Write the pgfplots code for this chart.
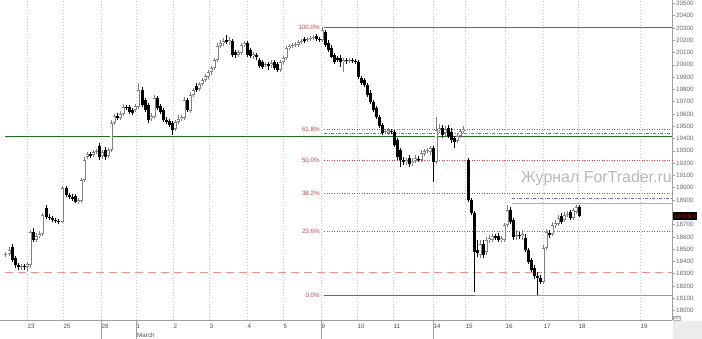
\documentclass[border=0pt]{standalone}
\usepackage{fontspec}
\setmainfont{Liberation Sans}
\usepackage{pgfplots}
\usepackage{pgfplotstable}
\pgfplotsset{compat=1.18}
\definecolor{fibred}{HTML}{B84848}
\definecolor{fibdot}{HTML}{D84040}
\definecolor{lvlblue}{HTML}{6A6AD0}
\definecolor{lvlgreen}{HTML}{1F6E1F}
\definecolor{lvlpink}{HTML}{F29090}
\definecolor{upgray}{HTML}{808080}

\pgfplotstableread{
x o h l c
5 18452 18477 18436 18460
9 18460 18517 18444 18493
12 18517 18542 18395 18411
15 18428 18444 18346 18371
18 18371 18387 18330 18354
21 18354 18379 18330 18363
24 18363 18379 18330 18354
27 18354 18395 18322 18379
30 18371 18655 18346 18639
33 18639 18672 18558 18574
36 18574 18631 18558 18607
39 18607 18647 18590 18623
42 18623 18794 18607 18778
46 18834 18859 18745 18761
49 18761 18786 18737 18753
52 18753 18769 18721 18737
55 18737 18753 18712 18729
58 18729 18745 18704 18721
62 18721 19014 18712 18997
66 18997 19014 18924 18940
69 18940 18957 18908 18924
72 18924 18948 18892 18908
75 18932 18948 18875 18883
78 18883 18916 18867 18900
81 18892 19079 18875 19062
84 19062 19250 19046 19225
87 19250 19290 19233 19274
90 19274 19290 19241 19258
93 19266 19306 19250 19290
96 19290 19315 19274 19298
99 19339 19363 19225 19250
102 19258 19306 19233 19290
105 19306 19331 19225 19250
108 19258 19323 19241 19306
111 19306 19551 19290 19526
114 19526 19599 19510 19583
117 19583 19608 19551 19567
120 19567 19624 19551 19599
123 19599 19681 19583 19656
126 19656 19673 19632 19648
129 19656 19673 19599 19616
132 19632 19648 19591 19608
135 19632 19681 19616 19665
138 19656 19852 19640 19795
142 19795 19819 19656 19673
145 19713 19730 19616 19632
148 19673 19689 19526 19551
151 19567 19608 19542 19583
154 19575 19754 19559 19730
157 19730 19746 19632 19648
160 19665 19681 19599 19616
163 19632 19648 19534 19551
166 19551 19575 19518 19534
169 19542 19559 19494 19510
172 19526 19542 19428 19469
175 19477 19551 19461 19534
178 19534 19591 19518 19559
181 19559 19591 19542 19575
184 19567 19738 19551 19713
187 19713 19730 19616 19632
190 19624 19778 19608 19754
193 19754 19811 19738 19795
196 19827 19852 19778 19795
199 19803 19860 19787 19843
202 19843 19892 19827 19876
205 19876 19925 19860 19909
208 19900 19957 19884 19941
211 19941 19990 19917 19974
214 19974 20055 19957 20039
217 20039 20177 20022 20153
220 20153 20202 20136 20177
223 20177 20218 20153 20193
226 20202 20242 20169 20185
229 20185 20226 20161 20202
232 20193 20210 20063 20079
235 20104 20120 20055 20079
238 20079 20120 20063 20104
241 20096 20177 20079 20161
244 20161 20193 20145 20177
247 20177 20193 20063 20079
250 20120 20136 20055 20071
253 20071 20104 20047 20088
256 20079 20096 20039 20063
259 20039 20055 19974 19990
262 20022 20039 19965 19982
265 19998 20022 19982 20006
268 20006 20022 19957 19990
271 19998 20039 19974 20014
274 20022 20039 19957 19974
277 20006 20022 19941 19957
280 19957 20039 19941 20022
283 20022 20071 20006 20055
286 20055 20153 20039 20136
289 20136 20169 20120 20153
292 20153 20177 20136 20161
295 20161 20185 20145 20169
298 20161 20202 20145 20185
301 20185 20210 20169 20193
304 20210 20226 20177 20193
307 20202 20226 20185 20210
310 20210 20234 20193 20218
313 20218 20242 20202 20226
316 20234 20250 20193 20210
319 20210 20226 20185 20202
322 20202 20307 20185 20283
325 20267 20283 20145 20161
328 20177 20202 20104 20120
331 20136 20161 20055 20063
334 20079 20096 20006 20022
337 20055 20071 20022 20039
340 20055 20079 19982 20022
343 20022 20055 19941 20039
346 20039 20055 20006 20031
349 20031 20055 20014 20039
352 20039 20055 20014 20031
355 20031 20047 20006 20022
358 20022 20039 19884 19900
361 19892 19909 19835 19852
364 19876 19892 19819 19835
367 19835 19852 19738 19754
370 19770 19795 19681 19697
373 19697 19713 19616 19632
376 19648 19665 19559 19575
379 19575 19591 19485 19502
382 19510 19526 19428 19445
385 19453 19477 19437 19461
388 19445 19485 19428 19469
391 19461 19477 19437 19453
394 19453 19469 19331 19347
397 19388 19404 19225 19250
400 19306 19323 19168 19225
403 19225 19250 19184 19209
406 19209 19241 19184 19225
409 19241 19266 19168 19193
412 19201 19241 19176 19217
415 19217 19266 19201 19241
418 19233 19258 19209 19225
421 19225 19306 19209 19282
424 19274 19315 19258 19298
427 19298 19323 19282 19306
430 19290 19339 19266 19323
433 19323 19339 19046 19209
436 19209 19575 19193 19469
439 19469 19518 19445 19485
442 19485 19510 19404 19428
445 19445 19502 19420 19477
448 19485 19510 19404 19420
451 19453 19485 19363 19388
454 19404 19420 19323 19372
457 19380 19445 19363 19420
460 19420 19477 19404 19461
463 19461 19502 19445 19477
468 19225 19241 18883 18900
471 18900 18916 18778 18794
474 18794 18810 18151 18477
477 18493 18574 18436 18468
480 18452 18574 18428 18542
483 18542 18574 18428 18452
486 18477 18599 18452 18574
489 18574 18615 18550 18590
492 18574 18623 18558 18607
495 18607 18623 18574 18590
498 18607 18631 18558 18574
501 18574 18607 18558 18590
504 18574 18712 18558 18696
507 18696 18859 18680 18818
510 18818 18843 18704 18721
513 18737 18753 18574 18599
516 18607 18655 18574 18615
519 18615 18639 18582 18607
522 18607 18655 18574 18623
525 18590 18623 18477 18493
528 18493 18509 18379 18395
531 18411 18428 18314 18330
534 18346 18371 18257 18281
537 18281 18314 18127 18265
540 18265 18289 18216 18232
543 18232 18534 18216 18509
546 18509 18664 18493 18639
549 18631 18655 18590 18615
552 18623 18721 18607 18696
555 18696 18737 18672 18712
558 18704 18778 18688 18753
561 18769 18794 18704 18721
564 18737 18802 18721 18778
567 18778 18810 18761 18786
570 18802 18818 18737 18753
573 18753 18834 18737 18818
576 18802 18859 18786 18843
579 18843 18859 18761 18769
}\candles

\begin{document}
\begin{tikzpicture}
\begin{axis}[
  at={(0bp,19bp)}, anchor=south west,
  scale only axis, width=672bp, height=320bp,
  xmin=0, xmax=672, ymin=17923, ymax=20527,
  clip=false,
  axis x line*=bottom, axis y line*=right,
  axis line style={gray!75, line width=0.6bp},
  scaled y ticks=false,
  /pgf/number format/assume math mode=true,
  /pgf/number format/1000 sep={},
  /pgf/number format/fixed,
  /pgf/number format/precision=0,
  ytick={18000,18100,18200,18300,18400,18500,18600,18700,18900,19000,19100,19200,19300,19400,19500,19600,19700,19800,19900,20000,20100,20200,20300,20400,20500},
  extra y ticks={18800}, extra y tick labels={},
  yticklabel style={font=\fontsize{6.3}{7}\selectfont, text=black!60, inner sep=1bp},
  ytick style={gray!75, line width=0.5bp},
  tick align=outside, major tick length=3bp,
  xtick={27,63,101,136,173,209,247,283,321,357,393,433,465,505,543,578,640},
  xticklabels={23,25,28,1,2,3,4,5,9,10,11,14,15,16,17,18,19},
  xtick style={draw=none},
  xticklabel style={font=\fontsize{6.3}{7}\selectfont, text=black!70, anchor=north west, inner sep=0bp, xshift=0.5bp, yshift=-1bp},
  xmajorgrids,
  major grid style={gray!45, line width=0.5bp, dash pattern=on 1bp off 2bp},
  colormap={candle}{color(0cm)=(black) color(1cm)=(upgray) color(2cm)=(white)},
  point meta min=0, point meta max=2,
]
% horizontal levels
\addplot[color=lvlgreen, line width=1bp] coordinates {(5,19416) (672,19416)};
\addplot[color=lvlpink, line width=1.5bp, dash pattern=on 8bp off 5bp] coordinates {(5,18310) (672,18310)};
\addplot[color=fibred, line width=1bp] coordinates {(324,20303) (672,20303)};
\addplot[color=fibred, line width=1bp] coordinates {(324,18122) (672,18122)};
\addplot[color=lvlblue!75, line width=1bp] coordinates {(475,18122) (672,18122)};
\addplot[color=fibdot, line width=1bp, dash pattern=on 1bp off 1.5bp] coordinates {(324,19473) (672,19473)};
\addplot[color=fibdot, line width=1bp, dash pattern=on 1bp off 1.5bp] coordinates {(324,19221) (672,19221)};
\addplot[color=fibdot, line width=1bp, dash pattern=on 1bp off 1.5bp] coordinates {(324,18952) (672,18952)};
\addplot[color=fibdot, line width=1bp, dash pattern=on 1bp off 1.5bp] coordinates {(324,18643) (672,18643)};
\addplot[color=lvlblue, line width=1bp, dash pattern=on 3bp off 1.5bp on 1bp off 1.5bp] coordinates {(324,19440) (672,19440)};
\addplot[color=lvlblue, line width=1bp, dash pattern=on 3bp off 1.5bp on 1bp off 1.5bp] coordinates {(512,18912) (672,18912)};
\addplot[color=lvlblue!60, line width=1bp] coordinates {(512,18871) (672,18871)};

% candles: wicks
\addplot[mark=none, line width=0.8bp, line cap=butt,
  quiver={u=0, v={\thisrow{h}-\thisrow{l}}, colored=mapped color},
  point meta={\thisrow{c}>\thisrow{o}}]
  table[x=x, y=l] {\candles};
% bodies
\addplot[mark=none, line width=3bp, line cap=butt,
  quiver={u=0, v={max(abs(\thisrow{c}-\thisrow{o}),8)}, colored=mapped color},
  point meta={\thisrow{c}>\thisrow{o}}]
  table[x=x, y expr={min(\thisrow{o},\thisrow{c})}] {\candles};
% hollow interior of up bodies
\addplot[mark=none, line width=1.1bp, line cap=butt,
  quiver={u=0, v={max(abs(\thisrow{c}-\thisrow{o})-14,0)}, colored=mapped color},
  point meta={2*(\thisrow{c}>\thisrow{o})}]
  table[x=x, y expr={min(\thisrow{o},\thisrow{c})+7}] {\candles};

% fib labels
\node[anchor=east, text=fibred, inner sep=0bp, font=\fontsize{6.3}{7}\selectfont] at (axis cs:320,20303) {100.0\%};
\node[anchor=east, text=fibred, inner sep=0bp, font=\fontsize{6.3}{7}\selectfont] at (axis cs:320,19473) {61.8\%};
\node[anchor=east, text=fibred, inner sep=0bp, font=\fontsize{6.3}{7}\selectfont] at (axis cs:320,19221) {50.0\%};
\node[anchor=east, text=fibred, inner sep=0bp, font=\fontsize{6.3}{7}\selectfont] at (axis cs:320,18952) {38.2\%};
\node[anchor=east, text=fibred, inner sep=0bp, font=\fontsize{6.3}{7}\selectfont] at (axis cs:320,18643) {23.6\%};
\node[anchor=east, text=fibred, inner sep=0bp, font=\fontsize{6.3}{7}\selectfont] at (axis cs:320,18122) {0.0\%};
% watermark
\node[anchor=base west, inner sep=0bp, text=black!28, font=\fontsize{16}{18}\selectfont] at (axis cs:521,19046) {Журнал ForTrader.ru};
% price box
\node[anchor=west, fill=black, text=red!85!black, inner sep=0.6bp, minimum height=8bp, font=\fontsize{6.3}{7}\selectfont] at (axis cs:673,18769) {18769.0};
% date band
\draw[gray!75, line width=0.6bp] (axis cs:5,17923) ++(0,-11bp) -- ++(668bp,0);
\draw[gray!75, line width=0.6bp] (axis cs:101,17923) -- ++(0,-11bp);
\draw[gray!75, line width=0.6bp] (axis cs:321,17923) -- ++(0,-11bp);
\draw[gray!75, line width=0.6bp] (axis cs:433,17923) -- ++(0,-11bp);
\draw[gray!75, line width=0.6bp] (axis cs:136,17923) -- ++(0,-20bp);
\node[anchor=west, inner sep=0bp, yshift=-15bp, text=black!70, font=\fontsize{6.3}{7}\selectfont] at (axis cs:137,17923) {March};
\fill[gray!15] (axis cs:672,17923) ++(1bp,-1bp) rectangle ++(30bp,-19bp);
\node[anchor=south west, inner sep=0.3bp, draw=gray!60, line width=0.3bp, text=black!60, font=\fontsize{4}{4}\selectfont] at (axis cs:673,17923) {x10};
\end{axis}
\pgfresetboundingbox
\useasboundingbox (0bp,0bp) rectangle (702bp,339bp);
\end{tikzpicture}
\end{document}
